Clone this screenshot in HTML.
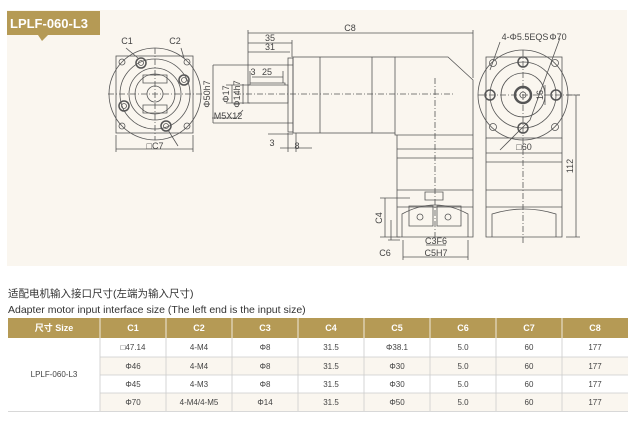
<!DOCTYPE html>
<html><head><meta charset="utf-8"><style>
html,body{margin:0;padding:0;background:#fff;width:639px;height:422px;overflow:hidden}
svg{display:block}
text{font-family:"Liberation Sans","Noto Sans CJK SC",sans-serif}
</style></head><body>
<svg width="639" height="422" viewBox="0 0 639 422" xmlns="http://www.w3.org/2000/svg">
<rect x="7" y="10" width="620" height="256" fill="#faf6ef"/>
<path d="M7 11 H100 V35 H48 L42 41 L38 35 H7 Z" fill="#b59a55"/>
<text x="10" y="28" font-size="13" font-weight="bold" fill="#fff">LPLF-060-L3</text>

<g stroke="#555" stroke-width="0.8" fill="none">
<rect x="116" y="56" width="77" height="77"/>
<circle cx="155" cy="94" r="46"/>
<circle cx="155" cy="94" r="35"/>
<circle cx="155" cy="94" r="26"/>
<circle cx="155" cy="94" r="20"/>
<circle cx="155" cy="94" r="8"/>
<path d="M143 75 h24 v8 h-24z M143 105 h24 v8 h-24z"/>
<circle cx="141" cy="63" r="5" stroke-width="1.5"/><circle cx="141" cy="63" r="2.5"/>
<circle cx="184" cy="80" r="5" stroke-width="1.5"/><circle cx="184" cy="80" r="2.5"/>
<circle cx="124" cy="106" r="5" stroke-width="1.5"/><circle cx="124" cy="106" r="2.5"/>
<circle cx="166" cy="126" r="5" stroke-width="1.5"/><circle cx="166" cy="126" r="2.5"/>
<circle cx="122" cy="62" r="3"/><circle cx="187" cy="62" r="3"/><circle cx="122" cy="126" r="3"/><circle cx="187" cy="126" r="3"/>
<path d="M108 94 H202 M155 48 V140" stroke-dasharray="6 2 1 2"/>
<path d="M116 135 V152 M193 135 V152 M116 149 H193"/>
<path d="M126 48 L138 58 M181 48 L184 58 M168 130 L178 146"/>
<path d="M248 85 H288 V103 H248 Z M250 83 H285 V85"/>
<rect x="288" y="58" width="5" height="74"/>
<rect x="293" y="57" width="102" height="76"/>
<path d="M320 57 V133 M372 57 V133"/>
<path d="M395 57 H448 L473 80 V135 M395 133 V135 H473"/>
<path d="M397 135 V237 H473 V135 M397 149 H473 M397 158 H473 M397 190 H473 M397 207 H473"/>
<path d="M402 237 V214 Q435 196 468 214 V237"/>
<path d="M409 226 h24 v-20 h-24z M437 226 h24 v-20 h-24z M425 200 h18 v-8 h-18z"/>
<circle cx="420" cy="217" r="3"/><circle cx="448" cy="217" r="3"/>
<path d="M235 94 H455 M435 78 V240" stroke-dasharray="6 2 1 2"/>
<path d="M248 30 V85 M473 30 V78 M248 33 H473 M248 43 H292 M248 52 H290 M292 40 V57 M252 77 H283 M250 71 V85 M283 71 V83"/>
<path d="M213 65 V123 M213 65 H293 M213 123 H293 M232 85 V103 M226 85 H250 M226 103 H250 M243 84 V104"/>
<path d="M243 110 L236 118 H212"/>
<path d="M268 134 H293 M288 133 V152 M296 133 V152 M280 148 H312"/>
<path d="M385 198 V237 M380 198 H410 M380 237 H400 M391 220 V240 M388 240 H400 M403 240 V260 M468 240 V260 M403 257 H468 M426 245 H446"/>
<rect x="486" y="57" width="76" height="81"/>
<circle cx="523" cy="95" r="45"/>
<circle cx="523" cy="95" r="33"/>
<circle cx="523" cy="95" r="22"/>
<circle cx="523" cy="95" r="8" stroke-width="2.5"/>
<circle cx="523" cy="95" r="3"/>
<circle cx="523" cy="62" r="5" stroke-width="1.5"/><circle cx="523" cy="128" r="5" stroke-width="1.5"/>
<circle cx="490" cy="95" r="5" stroke-width="1.5"/><circle cx="556" cy="95" r="5" stroke-width="1.5"/>
<circle cx="493" cy="63" r="3.5"/><circle cx="555" cy="63" r="3.5"/><circle cx="493" cy="127" r="3.5"/><circle cx="555" cy="127" r="3.5"/>
<path d="M486 138 V237 H562 V138 M486 162 H562 M486 190 H562 M486 207 H562 M492 237 V214 Q524 204 556 214 V237"/>
<path d="M478 95 H580 M523 50 V245" stroke-dasharray="6 2 1 2"/>
<path d="M486 153 H562 M566 95 H580 M566 237 H580 M576 95 V237 M545 85 V105 M500 42 L490 70 M560 38 L530 120 L500 150"/>
</g>
<g font-size="9" fill="#444" text-anchor="middle">
<text x="127" y="44">C1</text><text x="175" y="44">C2</text><text x="155" y="149">□C7</text>
<text x="350" y="31">C8</text><text x="270" y="41">35</text><text x="270" y="50">31</text>
<text x="253" y="75">3</text><text x="267" y="75">25</text>
<text x="272" y="146">3</text><text x="297" y="149">8</text>
<text x="228" y="119">M5X12</text>
<text x="436" y="244">C3F6</text><text x="436" y="256">C5H7</text>
<text x="385" y="256">C6</text>
<text x="525" y="40">4-Φ5.5EQS</text><text x="558" y="40">Φ70</text>
<text x="524" y="150">□60</text>
</g>
<g font-size="9" fill="#444" text-anchor="middle">
<text transform="translate(210 94) rotate(-90)">Φ50h7</text>
<text transform="translate(229 94) rotate(-90)">Φ17</text>
<text transform="translate(240 94) rotate(-90)">Φ14h7</text>
<text transform="translate(382 218) rotate(-90)">C4</text>
<text transform="translate(573 166) rotate(-90)">112</text>
<text transform="translate(543 95) rotate(-90)">16</text>
</g>
<text x="8" y="297" font-size="10.5" fill="#333">适配电机输入接口尺寸(左端为输入尺寸)</text>
<text x="8" y="313" font-size="10.5" fill="#333">Adapter motor input interface size (The left end is the input size)</text>
<rect x="8" y="318" width="620" height="20" fill="#b59a55"/>
<rect x="100" y="357" width="528" height="18" fill="#faf6ef"/>
<rect x="100" y="393" width="528" height="18" fill="#faf6ef"/>
<g stroke="#ccc" stroke-width="0.8">
<path d="M100 357 H628 M100 375 H628 M100 393 H628 M8 411.5 H628"/>
<path d="M100 338 V411 M166 338 V411 M232 338 V411 M298 338 V411 M364 338 V411 M430 338 V411 M496 338 V411 M562 338 V411"/>
</g>
<path d="M100 318 V338 M166 318 V338 M232 318 V338 M298 318 V338 M364 318 V338 M430 318 V338 M496 318 V338 M562 318 V338" stroke="#fff" stroke-width="0.8"/>
<g font-size="9" font-weight="bold" fill="#fff" text-anchor="middle">
<text x="54" y="331">尺寸 Size</text><text x="133" y="331">C1</text><text x="199" y="331">C2</text><text x="265" y="331">C3</text><text x="331" y="331">C4</text><text x="397" y="331">C5</text><text x="463" y="331">C6</text><text x="529" y="331">C7</text><text x="595" y="331">C8</text>
</g>
<g font-size="8" fill="#444" text-anchor="middle">
<text x="54" y="377">LPLF-060-L3</text>
<text x="133" y="350">□47.14</text><text x="199" y="350">4-M4</text><text x="265" y="350">Φ8</text><text x="331" y="350">31.5</text><text x="397" y="350">Φ38.1</text><text x="463" y="350">5.0</text><text x="529" y="350">60</text><text x="595" y="350">177</text>
<text x="133" y="369">Φ46</text><text x="199" y="369">4-M4</text><text x="265" y="369">Φ8</text><text x="331" y="369">31.5</text><text x="397" y="369">Φ30</text><text x="463" y="369">5.0</text><text x="529" y="369">60</text><text x="595" y="369">177</text>
<text x="133" y="387">Φ45</text><text x="199" y="387">4-M3</text><text x="265" y="387">Φ8</text><text x="331" y="387">31.5</text><text x="397" y="387">Φ30</text><text x="463" y="387">5.0</text><text x="529" y="387">60</text><text x="595" y="387">177</text>
<text x="133" y="405">Φ70</text><text x="199" y="405">4-M4/4-M5</text><text x="265" y="405">Φ14</text><text x="331" y="405">31.5</text><text x="397" y="405">Φ50</text><text x="463" y="405">5.0</text><text x="529" y="405">60</text><text x="595" y="405">177</text>
</g>
</svg>
</body></html>
